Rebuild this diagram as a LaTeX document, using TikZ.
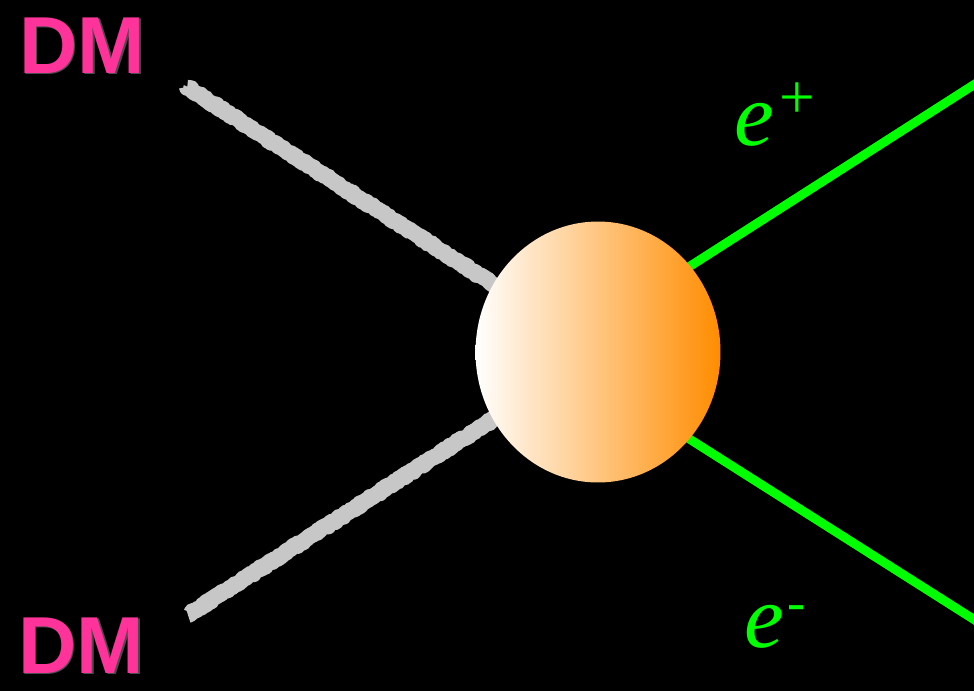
\documentclass[tikz,border=0pt]{standalone}
\usepackage{fontspec}
\newfontfamily\dmfont{Liberation Sans}
\newfontfamily\lepfont{Liberation Serif}
\usetikzlibrary{shapes.geometric, decorations.pathmorphing}

\definecolor{dmpink}{RGB}{255,51,153}
\definecolor{lepgreen}{RGB}{0,255,0}
\definecolor{blobedge}{RGB}{255,140,0}

\begin{document}
\begin{tikzpicture}[x=0.02cm, y=-0.02cm,
    chalk/.style={draw=black!22, line width=0.32cm, line join=round, decorate,
      decoration={random steps, segment length=1pt, amplitude=0.7pt}},
    lepton/.style={draw=lepgreen, line width=0.18cm},
    blob/.style={ellipse, minimum width=4.9cm, minimum height=5.22cm,
      inner sep=0pt, left color=white, right color=blobedge},
    dmlabel/.style={anchor=base west, inner sep=0pt, text=dmpink,
      font=\dmfont\bfseries\fontsize{46pt}{46pt}\selectfont},
    dmshadow/.style={dmlabel, text=black!70},
    leplabel/.style={anchor=base west, inner sep=0pt, text=lepgreen,
      font=\lepfont\itshape\fontsize{51pt}{51pt}\selectfont}]

  \fill[black] (0,0) rectangle (974,691);
  \clip (0,0) rectangle (974,691);

  \coordinate (core) at (598,352);
  \coordinate (dmin) at (187,87);
  \coordinate (dmout) at (188,615);
  \coordinate (posbase) at (598,325);
  \coordinate (posend) at (1000,68);
  \coordinate (negbase) at (598,381);
  \coordinate (negend) at (1000,636);

  % incoming dark matter
  \draw[chalk] (dmin) -- (core);
  \draw[chalk] (dmout) -- (core);

  % outgoing leptons
  \draw[lepton] (posbase) -- (posend);
  \draw[lepton] (negbase) -- (negend);

  \node[blob] (bubble) at (core) {};

  \node[dmshadow] (dmtopsh) at (20.5,74.5) {DM};
  \node[dmlabel] (dmtop) at (19,73) {DM};
  \node[dmshadow] (dmbotsh) at (19.5,674.5) {DM};
  \node[dmlabel] (dmbot) at (18,673) {DM};

  \node[leplabel] (eplus) at (734,145)
    {e\raisebox{15pt}{\upshape\fontsize{36pt}{36pt}\selectfont\kern3pt+}};
  \node[leplabel] (eminus) at (744,647)
    {e\raisebox{15pt}{\upshape\fontsize{31pt}{31pt}\selectfont\kern2pt-}};
\end{tikzpicture}
\end{document}
